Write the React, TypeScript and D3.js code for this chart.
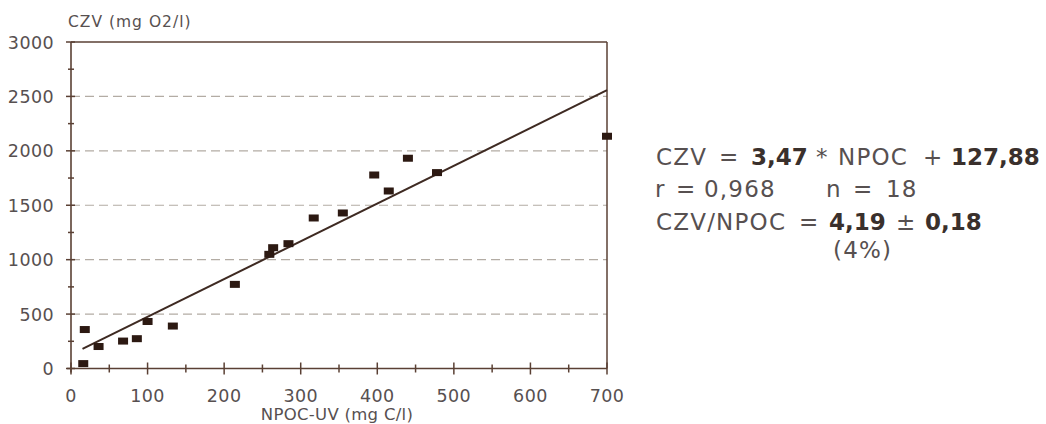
import React from 'react';
import * as d3 from 'd3';

// Measured samples: NPOC-UV (mg C/l) against CZV (mg O2/l)
const npocValues = [16, 18, 36, 68, 86, 100, 133, 214, 259, 264, 284, 317, 355, 396, 415, 440, 478, 700];
const czvValues = [45, 358, 202, 252, 274, 432, 390, 773, 1049, 1110, 1147, 1383, 1429, 1778, 1631, 1932, 1800, 2134];

// Axis ticks
const xTickValues = [0, 100, 200, 300, 400, 500, 600, 700];
const xMinorTicks = [50, 150, 250, 350, 450, 550, 650];
const yTickValues = [0, 500, 1000, 1500, 2000, 2500, 3000];
const yMinorTicks = [250, 750, 1250, 1750, 2250, 2750];
const gridValues = [500, 1000, 1500, 2000, 2500];

// Regression statistics
const fitSlope = 3.47;
const fitIntercept = 127.88;
const fitFrom = 15;
const fitTo = 700;
const corrR = 0.968;
const sampleN = 18;
const ratioMean = 4.19;
const ratioSd = 0.18;
const ratioPct = 4;

const fmt = (v: number, digits: number) => v.toFixed(digits).replace('.', ',');

const W = 1046;
const H = 424;
const left = 71;
const right = 607;
const top = 42;
const bottom = 368.5;

const AXIS = '#5a4034';
const MARK = '#2c1912';
const LINE = '#3e2a22';
const TEXT = '#575050';
const GRID = '#b3aca4';
const FONT = '"DejaVu Sans", sans-serif';

export default function App() {
  const x = d3.scaleLinear().domain([0, 700]).range([left, right]);
  const y = d3.scaleLinear().domain([0, 3000]).range([bottom, top]);

  const fitLine = d3
    .line<number>()
    .x((d) => x(d))
    .y((d) => y(fitSlope * d + fitIntercept));

  const eqSize = 23;
  const regular = { fontFamily: FONT, fontSize: eqSize, fill: TEXT, letterSpacing: 1.2 } as const;
  const bold = { fontFamily: FONT, fontSize: eqSize, fill: '#3a302c', fontWeight: 700 } as const;
  const tickFont = { fontFamily: FONT, fontSize: 17.5, fill: TEXT, letterSpacing: 0.4 } as const;

  return (
    <svg
      width={W}
      height={H}
      viewBox={`0 0 ${W} ${H}`}
      style={{ position: 'absolute', left: 0, top: 0, background: '#fff' }}
    >
      {/* horizontal dashed grid */}
      {gridValues.map((v) => (
        <line
          key={`g${v}`}
          x1={x(0)}
          x2={x(700)}
          y1={y(v)}
          y2={y(v)}
          stroke={GRID}
          strokeWidth={1.2}
          strokeDasharray="9,5"
        />
      ))}

      {/* frame */}
      <line x1={x(0)} x2={x(700)} y1={y(3000)} y2={y(3000)} stroke={AXIS} strokeWidth={1.5} />
      <line x1={x(700)} x2={x(700)} y1={y(3000)} y2={y(0)} stroke={AXIS} strokeWidth={1.5} />
      <line x1={x(0)} x2={x(0)} y1={y(3000)} y2={y(0) + 4} stroke={AXIS} strokeWidth={1.6} />
      <line x1={x(0) - 4} x2={x(700)} y1={y(0)} y2={y(0)} stroke={AXIS} strokeWidth={1.6} />

      {/* y ticks */}
      {yTickValues.map((v) => (
        <g key={`yt${v}`}>
          <line x1={x(0) - 5} x2={x(0) + 4} y1={y(v)} y2={y(v)} stroke={AXIS} strokeWidth={1.5} />
          <text x={54} y={y(v) + 6.5} textAnchor="end" {...tickFont}>
            {v}
          </text>
        </g>
      ))}
      {yMinorTicks.map((v) => (
        <line key={`ym${v}`} x1={x(0) - 3} x2={x(0) + 3} y1={y(v)} y2={y(v)} stroke={AXIS} strokeWidth={1.5} />
      ))}

      {/* x ticks */}
      {xTickValues.map((v) => (
        <g key={`xt${v}`}>
          <line x1={x(v)} x2={x(v)} y1={y(0) - 6} y2={y(0) + 6} stroke={AXIS} strokeWidth={1.5} />
          <text x={x(v)} y={402} textAnchor="middle" {...tickFont}>
            {v}
          </text>
        </g>
      ))}
      {xMinorTicks.map((v) => (
        <line key={`xm${v}`} x1={x(v)} x2={x(v)} y1={y(0) - 4} y2={y(0) + 4} stroke={AXIS} strokeWidth={1.5} />
      ))}

      {/* axis titles */}
      <text x={68} y={27} fontFamily={FONT} fontSize={15.5} letterSpacing={1} fill={TEXT}>
        CZV (mg O2/l)
      </text>
      <text
        x={337}
        y={420}
        textAnchor="middle"
        fontFamily={FONT}
        fontSize={16.5}
        letterSpacing={0.3}
        fill={TEXT}
      >
        NPOC-UV (mg C/l)
      </text>

      {/* regression line */}
      <path d={fitLine([fitFrom, fitTo]) ?? ''} fill="none" stroke={LINE} strokeWidth={2} />

      {/* samples */}
      {npocValues.map((v, i) => (
        <rect
          key={`p${i}`}
          x={x(v) - 5}
          y={y(czvValues[i]) - 3.5}
          width={10}
          height={7}
          fill={MARK}
        />
      ))}

      {/* regression statistics */}
      <g>
        <text y={165}>
          <tspan x={656} {...regular}>CZV</tspan>
          <tspan x={719} {...regular}>=</tspan>
          <tspan x={751} {...bold}>{fmt(fitSlope, 2)}</tspan>
          <tspan x={816} {...regular}>*</tspan>
          <tspan x={838} {...regular}>NPOC</tspan>
          <tspan x={923} {...regular}>+</tspan>
          <tspan x={951} {...bold}>{fmt(fitIntercept, 2)}</tspan>
        </text>
        <text y={197}>
          <tspan x={655} {...regular}>r</tspan>
          <tspan x={676} {...regular}>=</tspan>
          <tspan x={704} {...regular}>{fmt(corrR, 3)}</tspan>
          <tspan x={826} {...regular}>n</tspan>
          <tspan x={853} {...regular}>=</tspan>
          <tspan x={886} {...regular}>{sampleN}</tspan>
        </text>
        <text y={230}>
          <tspan x={656} {...regular}>CZV/NPOC</tspan>
          <tspan x={799} {...regular}>=</tspan>
          <tspan x={829} {...bold}>{fmt(ratioMean, 2)}</tspan>
          <tspan x={896} {...regular}>±</tspan>
          <tspan x={925} {...bold}>{fmt(ratioSd, 2)}</tspan>
        </text>
        <text y={258}>
          <tspan x={833} {...regular}>({ratioPct}%)</tspan>
        </text>
      </g>
    </svg>
  );
}
